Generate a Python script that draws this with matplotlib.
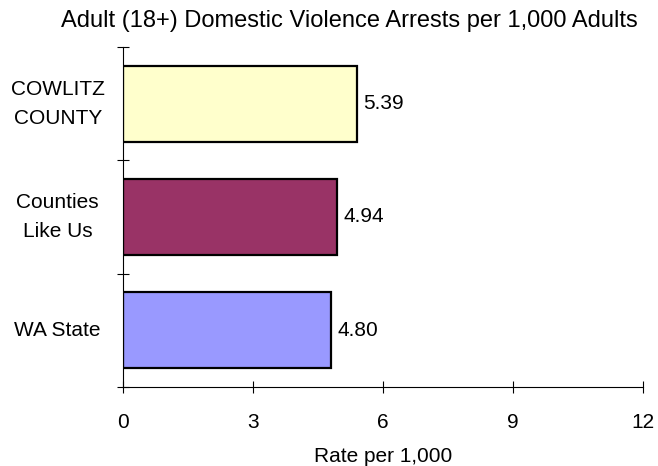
import matplotlib
matplotlib.use("Agg")
import matplotlib.pyplot as plt
import numpy as np

# ==========================
# DATA
# ==========================
categories = ["COWLITZ\nCOUNTY", "Counties\nLike Us", "WA State"]
rates = [5.39, 4.94, 4.80]
bar_colors = ["#FFFFCC", "#993366", "#9999FF"]
x_ticks = [0, 3, 6, 9, 12]

plt.rcParams.update({
    "font.family": ["Liberation Sans", "DejaVu Sans"],
    "font.size": 15,
})

fig = plt.figure(figsize=(6.58, 4.66), dpi=100)
fig.patch.set_facecolor("white")
ax = fig.add_axes([123 / 658, 1 - 387 / 466, 520 / 658, 340 / 466])

y_pos = np.arange(len(categories))
bars = ax.barh(y_pos, rates, height=0.67, color=bar_colors,
               edgecolor="black", linewidth=1.6)

for bar, v in zip(bars, rates):
    ax.text(bar.get_width() + 0.15, bar.get_y() + bar.get_height() / 2,
            f"{v:.2f}", ha="left", va="center", fontsize=15)

ax.set_xlim(0, 12)
ax.set_ylim(2.5, -0.5)
ax.set_xticks(x_ticks)
ax.set_xticklabels([str(t) for t in x_ticks])

# boundary ticks on y, labels at the category centres
ax.set_yticks([-0.5, 0.5, 1.5, 2.5])
ax.set_yticklabels([])
ax.set_yticks(y_pos, minor=True)
ax.set_yticklabels(categories, minor=True, ha="center", va="center",
                   multialignment="center", linespacing=1.65)
ax.tick_params(axis="y", which="minor", length=0, pad=47)
ax.tick_params(axis="y", which="major", direction="inout", length=9, width=0.8)
ax.tick_params(axis="x", direction="inout", length=9, width=0.8, pad=14)

for s in ["top", "right"]:
    ax.spines[s].set_visible(False)
for s in ["left", "bottom"]:
    ax.spines[s].set_linewidth(0.8)

ax.set_xlabel("Rate per 1,000", labelpad=11)
fig.text(349 / 658, 1 - 21 / 466,
         "Adult (18+) Domestic Violence Arrests per 1,000 Adults",
         ha="center", va="center", fontsize=17)

plt.savefig("out.png", dpi=100, facecolor=fig.get_facecolor())
plt.close()
